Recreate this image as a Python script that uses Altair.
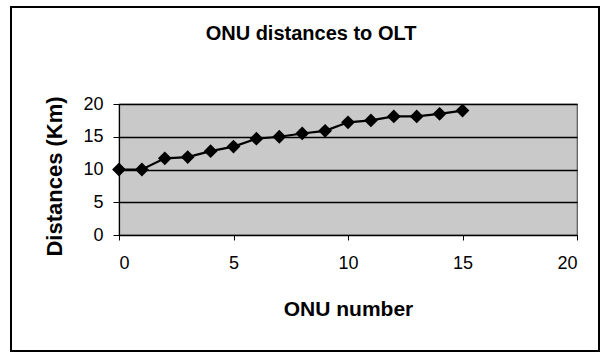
import altair as alt
import pandas as pd

onu_number = list(range(16))
distances_km = [10.0, 10.0, 11.7, 11.9, 12.8, 13.5, 14.7, 15.0, 15.5, 15.9, 17.2, 17.5, 18.1, 18.1, 18.5, 19.0]
axis_ticks = [0, 5, 10, 15, 20]
title_text = ["ONU distances to OLT"]

df = pd.DataFrame({"onu": onu_number, "dist": distances_km})

FONT = "Liberation Sans"

x_enc = alt.X("onu:Q", scale=alt.Scale(domain=[0, 20], nice=False),
              axis=alt.Axis(title="ONU number", values=axis_ticks, tickCount=10, grid=False,
                            domainColor="black", domainWidth=1.2, tickColor="black", tickSize=5,
                            labelFontSize=18, labelPadding=14, labelColor="black", labelFont=FONT,
                            labelOverlap=False,
                            titleFontSize=21, titleFont=FONT, titleFontWeight="bold", titleColor="black",
                            titlePadding=26))
y_enc = alt.Y("dist:Q", scale=alt.Scale(domain=[0, 20], nice=False),
              axis=alt.Axis(title="Distances (Km)", values=axis_ticks, tickCount=10, grid=True,
                            gridColor="black", gridWidth=1.3, domainColor="black", domainWidth=1.2,
                            tickColor="black", tickSize=6, labelFontSize=18, labelPadding=10,
                            labelColor="black", labelFont=FONT, labelOverlap=False,
                            titleFontSize=22, titleFont=FONT, titleFontWeight="bold", titleColor="black",
                            titleX=-65, titleY=72, titleBaseline="middle"))

line = alt.Chart(df).mark_line(color="black", strokeWidth=2.2).encode(x=x_enc, y=y_enc)
pts = alt.Chart(df).mark_point(shape="diamond", filled=True, color="black", opacity=1, size=190).encode(
    x=x_enc, y=y_enc)

frame = alt.Chart(df).mark_rect(fill="transparent", fillOpacity=0, stroke="black", strokeWidth=1.5).encode(
    x=alt.value(-108), x2=alt.value(480), y=alt.value(-97), y2=alt.value(247))

title = alt.Chart(pd.DataFrame({"t": title_text})).mark_text(
    font=FONT, fontSize=20, fontWeight="bold", color="black", align="center", baseline="middle").encode(
    text="t:N", x=alt.value(192), y=alt.value(-70))

chart = alt.layer(frame, line, pts, title).properties(
    width=458, height=131,
    background="white",
    autosize=alt.AutoSizeParams(type="none"),
    padding={"left": 119, "top": 104, "right": 25, "bottom": 119},
).configure_view(fill="#c9c9c9", stroke="#555555", strokeWidth=1.2)

chart.save("out.html", embed_options={"renderer": "svg", "actions": False})
